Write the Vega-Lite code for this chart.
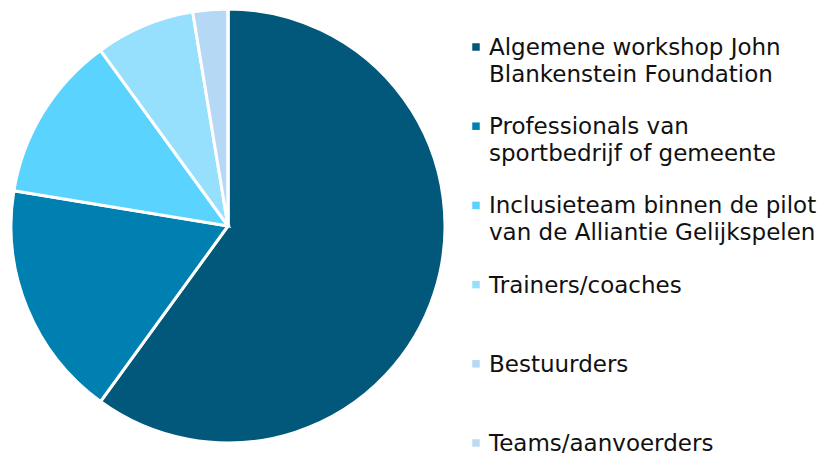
{
  "$schema": "https://vega.github.io/schema/vega-lite/v6.json",
  "padding": 0,
  "spacing": 0,
  "background": "white",
  "config": {"view": {"stroke": null}, "concat": {"spacing": 0}},
  "data": {"values": [
    {"cat": "Algemene workshop John\nBlankenstein Foundation", "value": 60.0},
    {"cat": "Professionals van\nsportbedrijf of gemeente", "value": 17.6},
    {"cat": "Inclusieteam binnen de pilot\nvan de Alliantie Gelijkspelen", "value": 12.4},
    {"cat": "Trainers/coaches", "value": 7.4},
    {"cat": "Bestuurders", "value": 2.6},
    {"cat": "Teams/aanvoerders", "value": 0}
  ]},
  "hconcat": [
    {
      "width": 456,
      "height": 452,
      "mark": {"type": "arc", "outerRadius": 217, "stroke": "white", "strokeWidth": 3},
      "encoding": {
        "theta": {"field": "value", "type": "quantitative", "stack": true},
        "order": {"field": "value", "type": "quantitative", "sort": "descending"},
        "color": {
          "field": "cat", "type": "nominal", "legend": null,
          "scale": {
            "domain": ["Algemene workshop John\nBlankenstein Foundation", "Professionals van\nsportbedrijf of gemeente", "Inclusieteam binnen de pilot\nvan de Alliantie Gelijkspelen", "Trainers/coaches", "Bestuurders", "Teams/aanvoerders"],
            "range": ["#01587a", "#0080b0", "#5bd3ff", "#97e0fd", "#b5d8f5", "#bcdaf3"]
          }
        }
      }
    },
    {
      "width": 40,
      "height": 455,
      "layer": [
        {
          "mark": {"type": "point", "shape": "square", "filled": true, "size": 56, "opacity": 1},
          "encoding": {
            "y": {"field": "cat", "type": "nominal", "axis": null, "sort": null,
                  "scale": {"type": "point", "padding": 0, "domain": ["Algemene workshop John\nBlankenstein Foundation", "Professionals van\nsportbedrijf of gemeente", "Inclusieteam binnen de pilot\nvan de Alliantie Gelijkspelen", "Trainers/coaches", "Bestuurders", "Teams/aanvoerders"], "range": [47, 443]}},
            "color": {"field": "cat", "type": "nominal", "legend": null}
          }
        },
        {
          "mark": {"type": "text", "align": "left", "baseline": "top", "dx": 13, "dy": -10, "font": "DejaVu Sans", "fontSize": 23, "lineBreak": "\n", "lineHeight": 27, "color": "#111111"},
          "encoding": {
            "y": {"field": "cat", "type": "nominal"},
            "text": {"field": "cat", "type": "nominal"}
          }
        }
      ]
    }
  ]
}
